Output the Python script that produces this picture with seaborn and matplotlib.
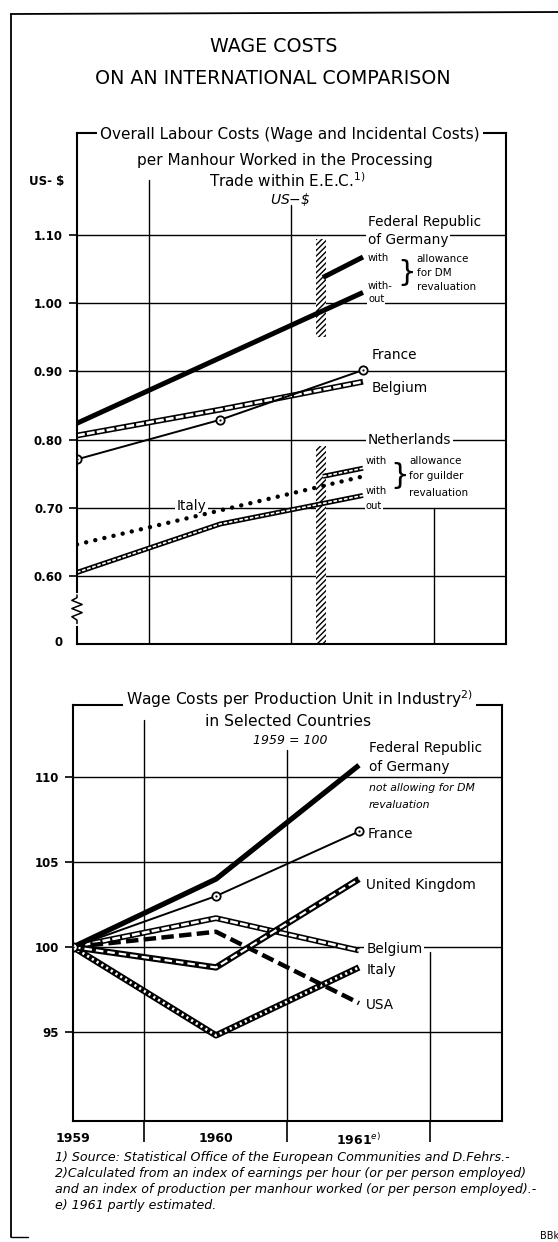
import matplotlib
matplotlib.use("Agg")
import matplotlib.pyplot as plt
import matplotlib.transforms as mtransforms
from matplotlib.patches import Rectangle
from matplotlib.lines import Line2D
import seaborn as sns

years = [1959, 1960, 1961]

# upper chart: overall labour costs, US-$ per manhour
de_without = [0.824, 0.920, 1.016]
de_with_years = [1960.72, 1961]
de_with = [1.038, 1.068]
france_usd = [0.771, 0.829, 0.902]
belgium_usd = [0.806, 0.844, 0.885]
nl_without = [0.605, 0.676, 0.718]
nl_with_years = [1960.72, 1961]
nl_with = [0.746, 0.758]
italy_usd = [0.646, 0.696, 0.746]
reval_span = [1960.67, 1960.74]
reval_top = [0.95, 1.095]
reval_low = [0.50, 0.79]
usd_ticks = [0.505, 0.6, 0.7, 0.8, 0.9, 1.0, 1.1]
usd_labels = ["0", "0.60", "0.70", "0.80", "0.90", "1.00", "1.10"]

# lower chart: wage costs per production unit, 1959 = 100
de_idx = [100, 104.0, 110.7]
france_idx = [100, 103.0, 106.8]
uk_idx = [100, 98.8, 104.0]
belgium_idx = [100, 101.7, 99.8]
usa_idx = [100, 100.9, 96.7]
italy_idx = [100, 94.8, 98.8]
idx_ticks = [95, 100, 105, 110]
idx_labels = ["95", "100", "105", "110"]
year_labels = ["1959", "1960", "1961$^{e)}$"]

sns.set_style("ticks", {"axes.edgecolor": "black", "text.color": "black",
                        "xtick.color": "black", "ytick.color": "black"})
plt.rcParams["font.family"] = ["DejaVu Sans"]


def solid(ax, x, y, lw, **kw):
    sns.lineplot(x=x, y=y, ax=ax, color="black", lw=lw, solid_capstyle="butt", **kw)


def double(ax, x, y, outer, inner, dash):
    sns.lineplot(x=x, y=y, ax=ax, color="black", lw=outer, solid_capstyle="butt")
    sns.lineplot(x=x, y=y, ax=ax, color="white", lw=inner, linestyle=(0, dash),
                 dash_capstyle="butt")


def label(ax, x, y, s, size=9.8, style="normal"):
    ax.text(x, y, s, fontsize=size, style=style, ha="left", va="center", zorder=6,
            bbox=dict(boxstyle="square,pad=0.12", fc="white", ec="none"))


def brace(ax, x, y):
    ax.text(x, y, "}", fontsize=21, ha="center", va="center", zorder=6)


def circles(ax, x, y):
    sns.lineplot(x=x, y=y, ax=ax, color="black", lw=0, marker="o", ms=6,
                 mfc="white", mec="black", mew=1.3)
    sns.scatterplot(x=x, y=y, ax=ax, color="black", s=3, zorder=4)


fig = plt.figure(figsize=(5.58, 12.42), dpi=100)
ax1 = fig.add_axes([0.1380, 0.4815, 0.7688, 0.4114])
ax2 = fig.add_axes([0.1308, 0.0974, 0.7688, 0.3349])

for ax in (ax1, ax2):
    ax.set_xlim(1959, 1962)
    for s in ax.spines.values():
        s.set_linewidth(1.5)
    ax.yaxis.grid(True, color="black", lw=1.0)
    ax.set_axisbelow(True)
    ax.tick_params(axis="y", direction="out", length=6, width=1.2, pad=4)

# ---------------- upper chart ----------------
ax1.set_ylim(0.50, 1.25)
ax1.set_yticks(usd_ticks)
ax1.set_yticklabels(usd_labels, fontweight="bold", fontsize=8.5)
ax1.set_xticks([])
ax1.yaxis.get_major_ticks()[0].tick1line.set_visible(False)
ax1.yaxis.get_major_ticks()[0].gridline.set_visible(False)
for gx, top in [(1959.5, 0.908), (1960.5, 0.859), (1961.5, 0.266)]:
    ax1.axvline(gx, ymax=top, color="black", lw=1.0, zorder=0.5)

for lo, hi in (reval_top, reval_low):
    ax1.add_patch(Rectangle((reval_span[0], lo), reval_span[1] - reval_span[0], hi - lo,
                            hatch="//////", fc="white", ec="black", lw=0, zorder=1.5))

solid(ax1, years, de_without, 3.6)
solid(ax1, de_with_years, de_with, 3.6)
double(ax1, years, belgium_usd, 4.2, 1.9, (3.0, 0.8))
solid(ax1, years, france_usd, 1.4)
circles(ax1, years, france_usd)
double(ax1, years, nl_without, 3.6, 1.2, (2.2, 1.0))
double(ax1, nl_with_years, nl_with, 3.6, 1.2, (2.2, 1.0))
sns.lineplot(x=years, y=italy_usd, ax=ax1, color="black", lw=3.2, zorder=7,
             linestyle=(0, (0.01, 2.1)), dash_capstyle="round")

label(ax1, 1961.035, 1.119, "Federal Republic")
label(ax1, 1961.035, 1.0925, "of Germany")
label(ax1, 1961.035, 1.066, "with", 7.2)
label(ax1, 1961.035, 1.026, "with-", 7.2)
label(ax1, 1961.035, 1.006, "out", 7.2)
brace(ax1, 1961.305, 1.045)
label(ax1, 1961.375, 1.065, "allowance", 7.5)
label(ax1, 1961.375, 1.044, "for DM", 7.5)
label(ax1, 1961.375, 1.0235, "revaluation", 7.5)
label(ax1, 1961.06, 0.924, "France")
label(ax1, 1961.06, 0.876, "Belgium")
label(ax1, 1961.035, 0.799, "Netherlands")
label(ax1, 1961.02, 0.769, "with", 7.2)
label(ax1, 1961.02, 0.725, "with", 7.2)
label(ax1, 1961.02, 0.703, "out", 7.2)
brace(ax1, 1961.255, 0.746)
label(ax1, 1961.325, 0.769, "allowance", 7.5)
label(ax1, 1961.325, 0.746, "for guilder", 7.5)
label(ax1, 1961.325, 0.722, "revaluation", 7.5)
label(ax1, 1959.70, 0.702, "Italy")

# axis break on the value scale
trans = mtransforms.blended_transform_factory(ax1.transAxes, ax1.transData)
ax1.plot([0, 0], [0.530, 0.572], color="white", lw=3, transform=trans, clip_on=False, zorder=7)
ax1.plot([0, 0, -0.012, 0.012, -0.012, 0.012, -0.012, 0, 0],
         [0.530, 0.535, 0.540, 0.546, 0.552, 0.558, 0.564, 0.568, 0.572],
         color="black", lw=1.1, transform=trans, clip_on=False, zorder=8)

# ---------------- lower chart ----------------
ax2.set_ylim(89.76, 114.24)
ax2.set_yticks(idx_ticks)
ax2.set_yticklabels(idx_labels, fontweight="bold", fontsize=8.5)
ax2.set_xticks(years)
ax2.set_xticklabels(year_labels, fontweight="bold", fontsize=9)
ax2.set_xticks([1959.5, 1960.5, 1961.5], minor=True)
ax2.tick_params(axis="x", which="major", length=0, pad=8)
ax2.tick_params(axis="x", which="minor", direction="out", length=15, width=1.2)
for gx, top in [(1959.5, 0.964), (1960.5, 0.892), (1961.5, 0.406)]:
    ax2.axvline(gx, ymax=top, color="black", lw=1.0, zorder=0.5)

double(ax2, years, italy_idx, 4.6, 2.0, (0.8, 1.2))
double(ax2, years, belgium_idx, 4.2, 1.9, (3.0, 0.8))
sns.lineplot(x=years, y=usa_idx, ax=ax2, color="black", lw=3.2,
             linestyle=(0, (2.8, 1.2)), dash_capstyle="butt")
double(ax2, years, uk_idx, 4.6, 1.6, (3.4, 1.8))
solid(ax2, years, de_idx, 3.8)
solid(ax2, years, france_idx, 1.4)
circles(ax2, years, france_idx)

label(ax2, 1961.07, 111.7, "Federal Republic")
label(ax2, 1961.07, 110.6, "of Germany")
label(ax2, 1961.07, 109.35, "not allowing for DM", 7.8, "italic")
label(ax2, 1961.07, 108.35, "revaluation", 7.8, "italic")
label(ax2, 1961.06, 106.65, "France")
label(ax2, 1961.05, 103.65, "United Kingdom")
label(ax2, 1961.05, 99.9, "Belgium")
label(ax2, 1961.05, 98.65, "Italy")
label(ax2, 1961.05, 96.6, "USA")

for ax in (ax1, ax2):
    ax.set_xlabel("")
    ax.set_ylabel("")


# ---------------- headings, notes, frame ----------------
def fy(py):
    return 1 - py / 1242


box = dict(boxstyle="square,pad=0.2", fc="white", ec="none")
fig.text(0.491, fy(47), "WAGE COSTS", ha="center", va="center", fontsize=13.7)
fig.text(0.489, fy(78), "ON AN INTERNATIONAL COMPARISON", ha="center", va="center",
         fontsize=13.7)
fig.text(0.52, fy(135), "Overall Labour Costs (Wage and Incidental Costs)", ha="center",
         va="center", fontsize=11, bbox=box)
fig.text(0.511, fy(160), "per Manhour Worked in the Processing", ha="center", va="center",
         fontsize=11)
fig.text(0.515, fy(181), "Trade within E.E.C.$^{1)}$", ha="center", va="center", fontsize=11)
fig.text(0.52, fy(199), "US$-$\\$", ha="center", va="center", fontsize=10, style="italic")
fig.text(0.083, fy(181), "US- $", ha="center", va="center", fontsize=8.5, fontweight="bold")

fig.text(0.537, fy(699), "Wage Costs per Production Unit in Industry$^{2)}$", ha="center",
         va="center", fontsize=11.2, bbox=box)
fig.text(0.516, fy(722), "in Selected Countries", ha="center", va="center", fontsize=11.2)
fig.text(0.52, fy(741), "1959 = 100", ha="center", va="center", fontsize=9, style="italic")

notes = [
    "1) Source: Statistical Office of the European Communities and D.Fehrs.-",
    "2)Calculated from an index of earnings per hour (or per person employed)",
    "and an index of production per manhour worked (or per person employed).-",
    "e) 1961 partly estimated.",
]
for i, note in enumerate(notes):
    fig.text(0.099, fy(1158 + 16 * i), note, ha="left", va="center", fontsize=9.1,
             style="italic")
fig.text(0.968, fy(1236), "BBk", ha="left", va="center", fontsize=7)

fig.lines.append(Line2D([0.0197, 0.0197], [fy(14), fy(1237)], color="black", lw=1.3,
                        transform=fig.transFigure))
fig.lines.append(Line2D([0.0197, 1.0], [fy(14), fy(12)], color="black", lw=1.3,
                        transform=fig.transFigure))
fig.lines.append(Line2D([0.0197, 0.05], [fy(1237), fy(1237)], color="black", lw=1.0,
                        transform=fig.transFigure))

fig.savefig("out.png", dpi=100)
